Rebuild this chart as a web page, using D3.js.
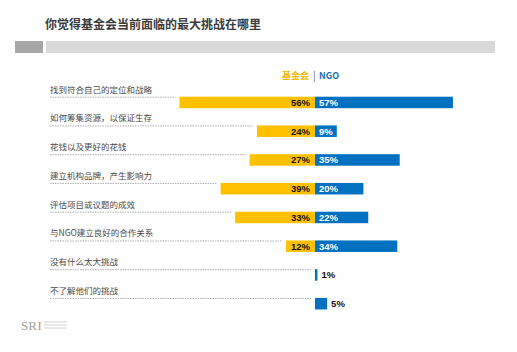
<!DOCTYPE html>
<html>
<head>
<meta charset="utf-8">
<script src="https://cdn.jsdelivr.net/npm/d3@7"></script>
<style>
  body { margin: 0; background: #fff; }
  text { font-family: "Noto Sans CJK SC", "Noto Sans", sans-serif; }
</style>
</head>
<body>
<div id="chart"></div>
<script>
// 数据
var categories = [
    "找到符合自己的定位和战略",
    "如何筹集资源，以保证生存",
    "花钱以及更好的花钱",
    "建立机构品牌，产生影响力",
    "评估项目或议题的成效",
    "与NGO建立良好的合作关系",
    "没有什么太大挑战",
    "不了解他们的挑战"
];
var foundation = [56, 24, 27, 39, 33, 12, 0, 0];
var ngo = [57, 9, 35, 20, 22, 34, 1, 5];
var seriesNames = ["基金会", "NGO"];

var width = 517, height = 352;
var center = 315;
var barH = 11.5;
var yellow = "#ffc000", blue = "#0070c0";

var svg = d3.select("#chart").append("svg")
    .attr("width", width)
    .attr("height", height);

// 标题
svg.append("text")
    .attr("x", 45)
    .attr("y", 29)
    .style("font-size", "12px")
    .style("font-weight", "bold")
    .style("fill", "#3a3a3a")
    .text("你觉得基金会当前面临的最大挑战在哪里");

// 标题下的灰条
svg.append("rect").attr("x", 15).attr("y", 41).attr("width", 28).attr("height", 12).style("fill", "#a6a6a6");
svg.append("rect").attr("x", 46).attr("y", 41).attr("width", 449).attr("height", 12).style("fill", "#d9d9d9");

// 尺度
var x = d3.scaleLinear().domain([0, 100]).range([0, 242]);
var y = d3.scaleBand().domain(categories).range([96.7, 96.7 + categories.length * 28.75]);

var rows = categories.map(function (c, i) {
    return { cat: c, f: foundation[i], n: ngo[i] };
});

// 图例
var legend = svg.append("g").attr("transform", "translate(282,79)");
legend.append("text").attr("x", 0).attr("y", 0)
    .style("font-size", "9px").style("font-weight", "bold").style("fill", "#f2b800")
    .text(seriesNames[0]);
legend.append("text").attr("x", 31).attr("y", 0)
    .style("font-size", "10px").style("fill", "#6b5a4a")
    .text("|");
legend.append("text").attr("x", 37).attr("y", 0)
    .style("font-size", "9px").style("font-weight", "bold").style("fill", "#1f6fb5")
    .text(seriesNames[1]);

var g = svg.selectAll(".row").data(rows).enter().append("g").attr("class", "row");

// 分类标签
g.append("text")
    .attr("x", 50)
    .attr("y", function (d) { return y(d.cat) - 4; })
    .style("font-size", "8.5px")
    .style("fill", "#4a4a4a")
    .text(function (d) { return d.cat; });

// 虚线
g.append("line")
    .attr("x1", 50)
    .attr("x2", function (d) { return center - x(d.f) - 4; })
    .attr("y1", function (d) { return y(d.cat) + 0.5; })
    .attr("y2", function (d) { return y(d.cat) + 0.5; })
    .style("stroke", "#9a9a9a")
    .style("stroke-width", 0.8)
    .style("stroke-dasharray", "1.5,1");

// 基金会柱
g.append("rect")
    .attr("x", function (d) { return center - x(d.f); })
    .attr("y", function (d) { return y(d.cat); })
    .attr("width", function (d) { return x(d.f); })
    .attr("height", barH)
    .style("fill", yellow);

// NGO 柱
g.append("rect")
    .attr("x", center)
    .attr("y", function (d) { return y(d.cat); })
    .attr("width", function (d) { return x(d.n); })
    .attr("height", barH)
    .style("fill", blue);

// 数值标签
g.filter(function (d) { return d.f > 0; }).append("text")
    .attr("x", center - 5)
    .attr("y", function (d) { return y(d.cat) + barH / 2 + 3.3; })
    .attr("text-anchor", "end")
    .style("font-family", "'Liberation Sans', Arial, sans-serif")
    .style("font-size", "9.5px")
    .style("font-weight", "bold")
    .style("fill", "#111")
    .text(function (d) { return d.f + "%"; });

g.append("text")
    .attr("x", function (d) { return d.n >= 9 ? center + 4 : center + x(d.n) + 4; })
    .attr("y", function (d) { return y(d.cat) + barH / 2 + 3.3; })
    .style("font-family", "'Liberation Sans', Arial, sans-serif")
    .style("font-size", "9.5px")
    .style("font-weight", "bold")
    .style("fill", function (d) { return d.n >= 9 ? "#fff" : "#111"; })
    .text(function (d) { return d.n + "%"; });

// SRI 标志
var logo = svg.append("g").attr("transform", "translate(21,330)");
logo.append("text").attr("x", 0).attr("y", 0)
    .style("font-family", "'Liberation Serif', 'DejaVu Serif', serif")
    .style("font-size", "13px")
    .style("fill", "#a0a0a0")
    .text("SR");
logo.append("text").attr("x", 16.5).attr("y", 0)
    .style("font-family", "'Liberation Serif', 'DejaVu Serif', serif")
    .style("font-size", "13px")
    .style("fill", "#d8905a")
    .text("I");
[-8, -5, -2].forEach(function (dy) {
    logo.append("line").attr("x1", 23).attr("x2", 46).attr("y1", dy).attr("y2", dy)
        .style("stroke", "#c8c8c8").style("stroke-width", 0.8);
});
</script>
</body>
</html>
